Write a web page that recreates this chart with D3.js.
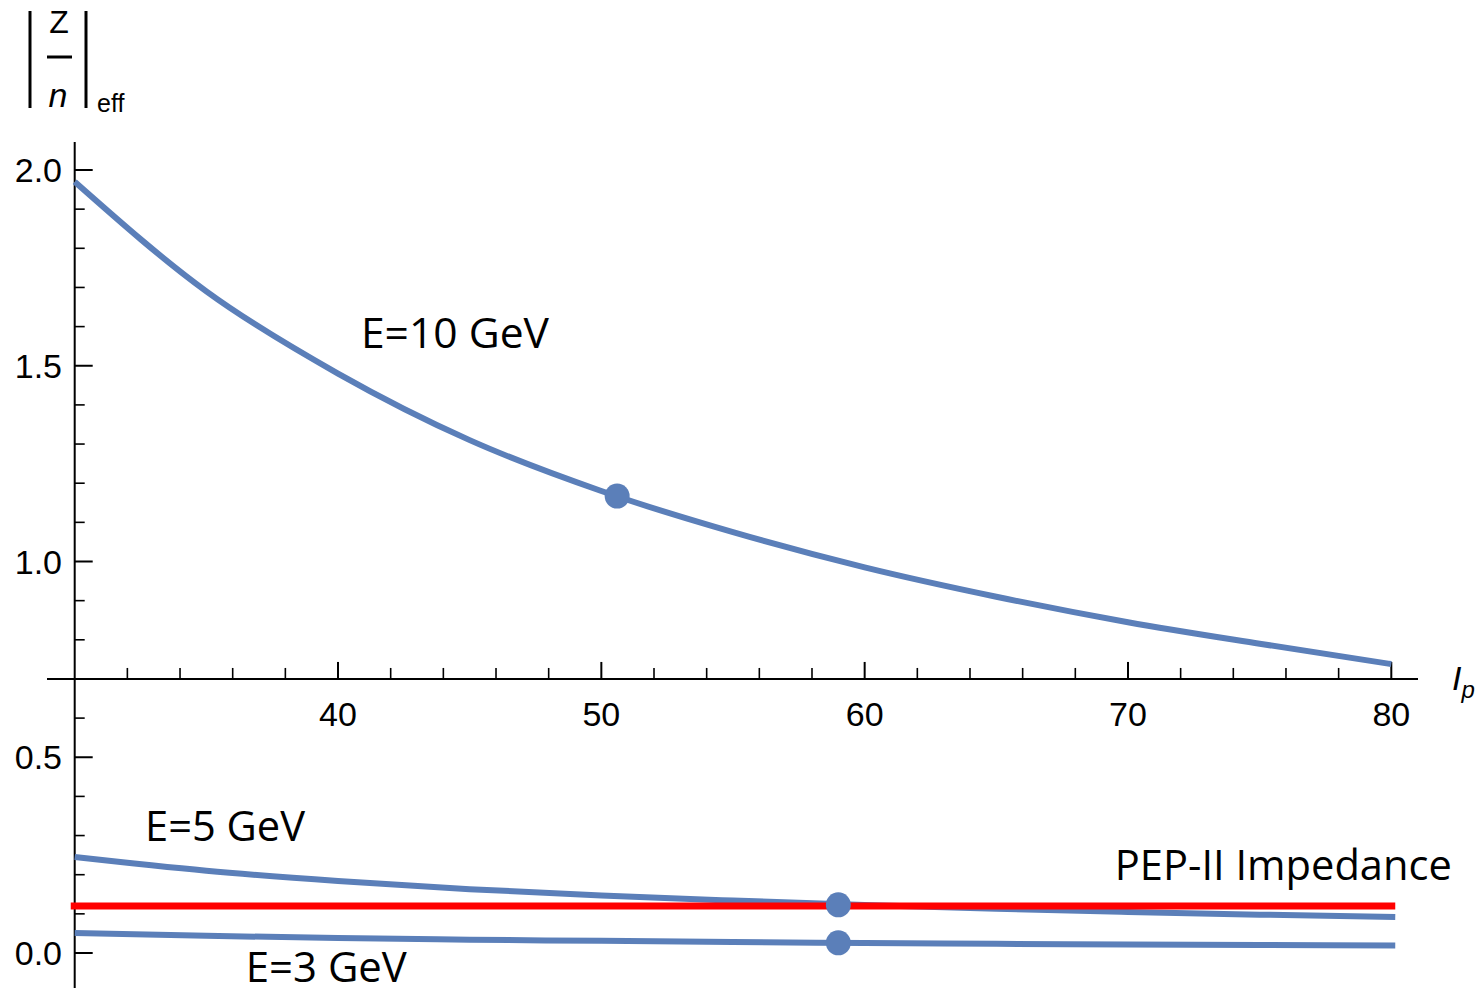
<!DOCTYPE html>
<html><head><meta charset="utf-8">
<script src="https://cdn.jsdelivr.net/npm/d3@7"></script>
<style>html,body{margin:0;padding:0;background:#fff;overflow:hidden}</style>
</head><body>
<svg id="c" width="1482" height="988"></svg>
<script>
// ---- data ----
const currents = [30, 35, 40, 45, 50, 55, 60, 65, 70, 75, 80];
const zE10 = [1.97, 1.69, 1.48, 1.31, 1.18, 1.075, 0.985, 0.91, 0.845, 0.79, 0.738];
const currentsLow = [30, 35, 40, 45, 50, 55, 60, 65, 70, 75, 80.15];
const zE5  = [0.245, 0.21, 0.184, 0.163, 0.147, 0.134, 0.1225, 0.113, 0.105, 0.098, 0.092];
const zE3  = [0.051, 0.044, 0.038, 0.034, 0.031, 0.028, 0.0255, 0.0235, 0.022, 0.0205, 0.019];
const pepX = [29.85, 80.15];
const pepY = [0.12, 0.12];
const markersX = [50.6, 59.0, 59.0];
const markersY = [1.167, 0.123, 0.026];
const xMajor = [40, 50, 60, 70, 80];
const xMajorLabels = ["40", "50", "60", "70", "80"];
const xMinor = [32,34,36,38,42,44,46,48,52,54,56,58,62,64,66,68,72,74,76,78];
const yMajor = [0.0, 0.5, 1.0, 1.5, 2.0];
const yMajorLabels = ["0.0", "0.5", "1.0", "1.5", "2.0"];
const yMinor = [0.1,0.2,0.3,0.4,0.6,0.8,0.9,1.1,1.2,1.3,1.4,1.6,1.7,1.8,1.9];
const seriesLabels = [
  {t:"E=10 GeV", x:40.87, y:1.545, w:188},
  {t:"E=5 GeV", x:32.67, y:0.285, w:160},
  {t:"E=3 GeV", x:36.5, y:-0.074, w:161},
  {t:"PEP-II Impedance", x:69.5, y:0.186, w:337}
];

const svg = d3.select("#c");
const x = d3.scaleLinear().domain([30, 80]).range([74.7, 1391.3]);
const y = d3.scaleLinear().domain([0, 2]).range([953, 170]);
const blue = "#5b7fb9";
const axisY0 = 0.7;

// axes lines
svg.append("line").attr("x1", 47).attr("x2", 1418).attr("y1", y(axisY0)).attr("y2", y(axisY0))
  .attr("stroke", "#000").attr("stroke-width", 2);
svg.append("line").attr("x1", x(30)).attr("x2", x(30)).attr("y1", 142).attr("y2", 988)
  .attr("stroke", "#000").attr("stroke-width", 2);

// x ticks
svg.selectAll(".xM").data(xMajor).join("line")
  .attr("x1", d => x(d)).attr("x2", d => x(d)).attr("y1", y(axisY0)).attr("y2", y(axisY0) - 17)
  .attr("stroke", "#000").attr("stroke-width", 2);
svg.selectAll(".xm").data(xMinor).join("line")
  .attr("x1", d => x(d)).attr("x2", d => x(d)).attr("y1", y(axisY0)).attr("y2", y(axisY0) - 11)
  .attr("stroke", "#000").attr("stroke-width", 1.6);
svg.selectAll(".xl").data(xMajor).join("text")
  .attr("x", d => x(d)).attr("y", y(axisY0) + 47)
  .attr("text-anchor", "middle").attr("font-family", "Liberation Sans, Arial, sans-serif")
  .attr("font-size", 34).attr("fill", "#000").text((d, i) => xMajorLabels[i]);

// y ticks
svg.selectAll(".yM").data(yMajor).join("line")
  .attr("x1", x(30)).attr("x2", x(30) + 18).attr("y1", d => y(d)).attr("y2", d => y(d))
  .attr("stroke", "#000").attr("stroke-width", 2);
svg.selectAll(".ym").data(yMinor).join("line")
  .attr("x1", x(30)).attr("x2", x(30) + 10).attr("y1", d => y(d)).attr("y2", d => y(d))
  .attr("stroke", "#000").attr("stroke-width", 1.6);
svg.selectAll(".yl").data(yMajor).join("text")
  .attr("x", 62).attr("y", d => y(d) + 12)
  .attr("text-anchor", "end").attr("font-family", "Liberation Sans, Arial, sans-serif")
  .attr("font-size", 34).attr("fill", "#000").text((d, i) => yMajorLabels[i]);

// lines
const line = d3.line().x(d => x(d[0])).y(d => y(d[1])).curve(d3.curveMonotoneX);
svg.append("path").datum(currents.map((c, i) => [c, zE10[i]]))
  .attr("d", line).attr("fill", "none").attr("stroke", blue).attr("stroke-width", 6);
[zE5, zE3].forEach(s => {
  svg.append("path").datum(currentsLow.map((c, i) => [c, s[i]]))
    .attr("d", line).attr("fill", "none").attr("stroke", blue).attr("stroke-width", 6);
});
svg.append("path").datum(pepX.map((c, i) => [c, pepY[i]]))
  .attr("d", d3.line().x(d => x(d[0])).y(d => y(d[1])))
  .attr("fill", "none").attr("stroke", "#ff0000").attr("stroke-width", 7);

// markers
svg.selectAll(".mk").data(markersX).join("circle")
  .attr("cx", d => x(d)).attr("cy", (d, i) => y(markersY[i])).attr("r", 12.5)
  .attr("fill", blue);

// series labels
svg.selectAll(".sl").data(seriesLabels).join("text")
  .attr("x", d => x(d.x)).attr("y", d => y(d.y))
  .attr("font-family", "Open Sans, sans-serif").attr("font-size", 42).attr("fill", "#000")
  .attr("textLength", d => d.w).attr("lengthAdjust", "spacingAndGlyphs")
  .text(d => d.t);

// y axis title |Z/n|_eff
const g = svg.append("g");
g.append("line").attr("x1", 30).attr("x2", 30).attr("y1", 11).attr("y2", 108).attr("stroke", "#000").attr("stroke-width", 3);
g.append("line").attr("x1", 86).attr("x2", 86).attr("y1", 11).attr("y2", 108).attr("stroke", "#000").attr("stroke-width", 3);
g.append("line").attr("x1", 47).attr("x2", 72).attr("y1", 57).attr("y2", 57).attr("stroke", "#000").attr("stroke-width", 3);
g.append("text").attr("x", 59).attr("y", 33).attr("text-anchor", "middle")
  .attr("font-family", "Liberation Sans, Arial, sans-serif").attr("font-size", 32).text("Z");
g.append("text").attr("x", 58).attr("y", 107).attr("text-anchor", "middle").attr("font-style", "italic")
  .attr("font-family", "Liberation Sans, Arial, sans-serif").attr("font-size", 34).text("n");
g.append("text").attr("x", 97).attr("y", 112)
  .attr("font-family", "Liberation Sans, Arial, sans-serif").attr("font-size", 25).text("eff");

// x axis title I_p
const t = svg.append("text").attr("x", 1452).attr("y", 690)
  .attr("font-family", "Liberation Sans, Arial, sans-serif").attr("font-style", "italic").attr("font-size", 34);
t.append("tspan").text("I");
t.append("tspan").attr("font-size", 24).attr("dy", 8).text("p");
</script>
</body></html>
